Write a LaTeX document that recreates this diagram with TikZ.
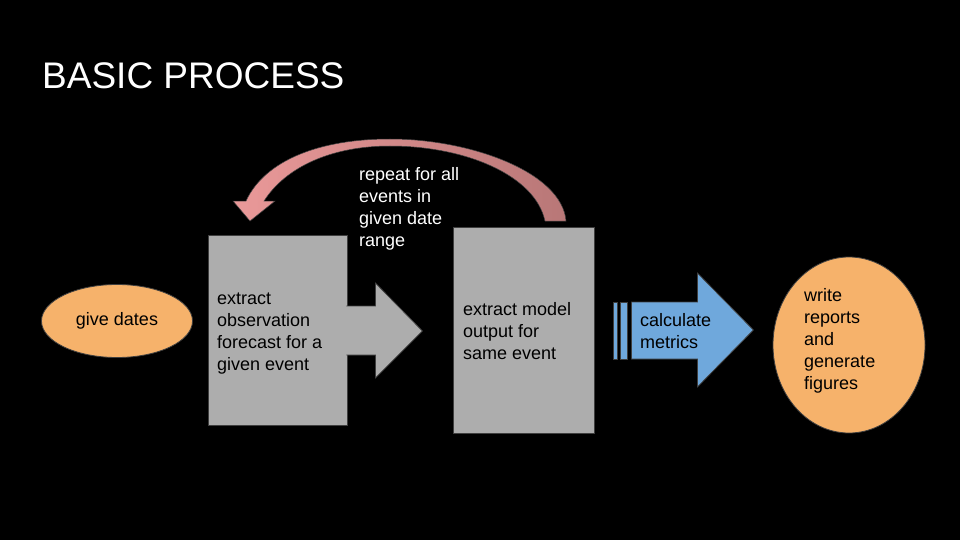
\documentclass[tikz,border=0pt]{standalone}
\usepackage{fontspec}
\setmainfont{Liberation Sans}
\usetikzlibrary{positioning, shapes.geometric, calc}
\definecolor{ovalorange}{HTML}{F6B26B}
\definecolor{boxgray}{HTML}{ADADAD}
\definecolor{arrowblue}{HTML}{6FA8DC}
\definecolor{pinklight}{HTML}{EA9999}
\definecolor{pinkdark}{HTML}{B87777}
\definecolor{edgegray}{HTML}{3F3F3F}
\tikzset{
    %Define standard text look
    lbl/.style={align=left, font=\fontsize{18}{22}\selectfont, text=black, inner sep=0pt},
}

\begin{document}
\begin{tikzpicture}[
  x=1pt, y=-1pt,
  procbox/.style = {draw=edgegray, fill=boxgray, line width=.8pt, inner sep=0pt},
  oval/.style = {ellipse, draw=edgegray, fill=ovalorange, line width=.8pt, inner sep=0pt},
  pane/.style = {draw=edgegray, line width=.8pt} ]
  \fill[black] (0,0) rectangle (960,540);
  \node[anchor=base west, text=white, inner sep=0pt,
        font=\fontsize{37}{40}\selectfont] (title) at (42,89) {BASIC PROCESS};

  \node[oval, minimum width=151pt, minimum height=73pt] (dates) at (117,321) {};
  \node[lbl] (datestext) at (dates) {give dates};

  \node[procbox, minimum width=139pt, minimum height=190pt] (obs) at (277.5,330) {};
  % arrow out of the first box
  \filldraw[pane, fill=boxgray] ($(obs.east)+(-1,-24)$) -- ($(obs.east)+(28,-24)$)
    -- ($(obs.east)+(28,-47)$) -- ($(obs.east)+(75,1)$) -- ($(obs.east)+(28,48)$)
    -- ($(obs.east)+(28,25)$) -- ($(obs.east)+(-1,25)$);
  \node[lbl, anchor=west] (obstext) at (217,334)
    {extract\\observation\\forecast for a\\given event};

  \node[procbox, minimum width=141pt, minimum height=206pt] (model) at (523.5,330) {};
  \node[lbl, anchor=west] (modeltext) at (463,331)
    {extract model\\output for\\same event};

  % blue arrow with stripes
  \filldraw[pane, fill=arrowblue] ($(model.east)+(19,-28)$) rectangle ($(model.east)+(23,29)$);
  \filldraw[pane, fill=arrowblue] ($(model.east)+(26,-28)$) rectangle ($(model.east)+(33,29)$);
  \filldraw[pane, fill=arrowblue] ($(model.east)+(37,-28)$) -- ($(model.east)+(103,-28)$)
    -- ($(model.east)+(103,-57)$) -- ($(model.east)+(159,0)$) -- ($(model.east)+(103,57)$)
    -- ($(model.east)+(103,29)$) -- ($(model.east)+(37,29)$) -- cycle;
  \node[lbl, anchor=west] (calctext) at (640,331) {calculate\\metrics};

  \node[oval, minimum width=152pt, minimum height=176pt] (report) at (849,345) {};
  \node[lbl, anchor=west] (reporttext) at (804,341)
    {write\\reports\\and\\generate\\figures};

  % curved arrow back over the boxes
  \shadedraw[left color=pinklight, right color=pinkdark, draw=edgegray, line width=.5pt]
    (566,221) .. controls (562,172) and (470,139) .. (390,139)
    .. controls (320,139) and (265,160) .. (246,201)
    -- (233,201) -- (250,221) -- (275,201) -- (264,201)
    .. controls (285,168) and (330,146) .. (390,146)
    .. controls (465,146) and (535,175) .. (545,221) -- cycle;
  \node[lbl, anchor=west, text=white] (repeattext) at (359,209)
    {repeat for all\\events in\\given date\\range};
\end{tikzpicture}
\end{document}
